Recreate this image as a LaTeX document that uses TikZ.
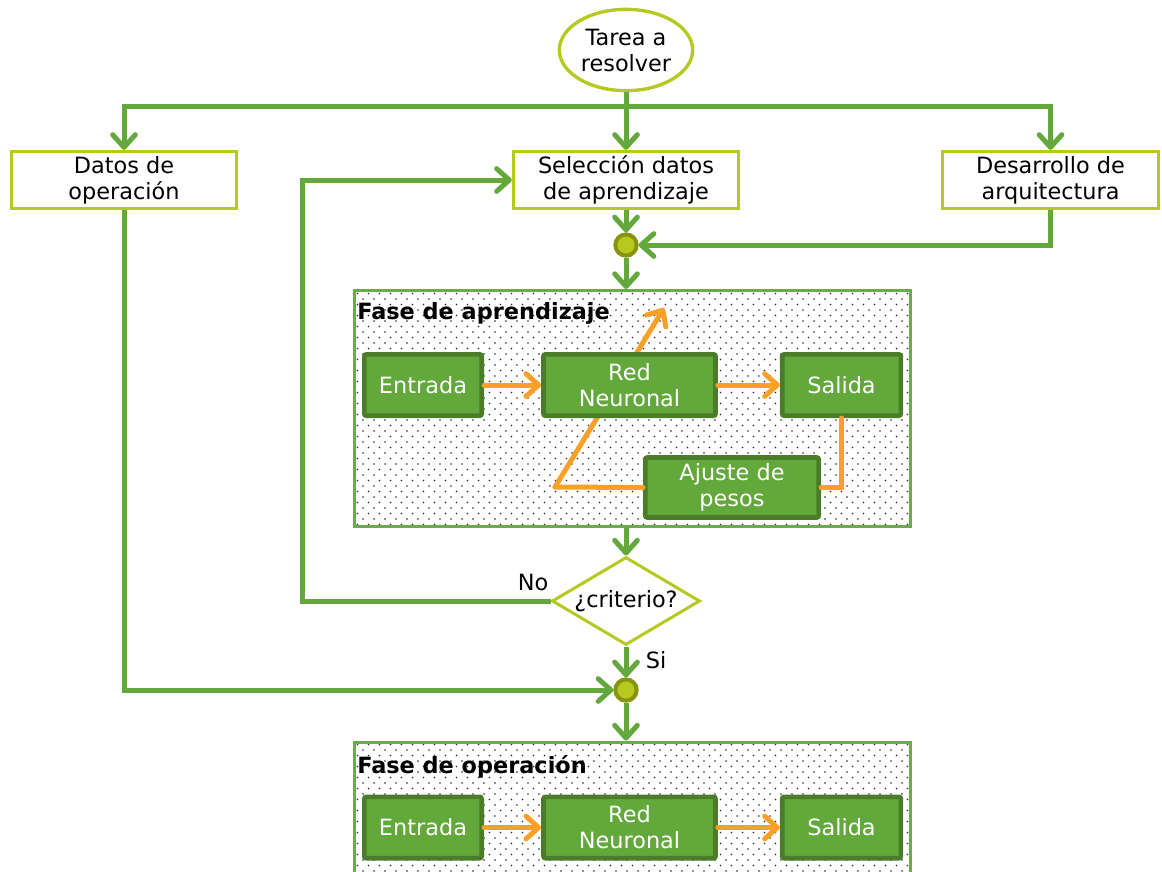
\documentclass[tikz,border=0pt]{standalone}
\usepackage{fontspec}
\setmainfont{DejaVu Sans}
\usetikzlibrary{arrows.meta,shapes.geometric,patterns.meta}

\definecolor{limeC}{RGB}{181,201,30}
\definecolor{oliveC}{RGB}{134,148,14}
\definecolor{flowG}{RGB}{98,168,58}
\definecolor{boxG}{RGB}{99,168,59}
\definecolor{boxD}{RGB}{74,124,42}
\definecolor{faseG}{RGB}{106,172,74}
\definecolor{orangeC}{RGB}{248,160,40}

\tikzdeclarepattern{
  name=fasedots,
  type=uncolored,
  bounding box={(-1pt,-1pt) and (8.25pt,8.25pt)},
  tile size={(8.25pt,8.25pt)},
  code={\fill (0,0) circle (0.6pt); \fill (4.125pt,4.125pt) circle (0.6pt);}
}

\begin{document}
\begin{tikzpicture}[x=0.75pt,y=-0.75pt,
    txt/.style={font=\fontsize{16.8}{19.5}\selectfont, align=center},
    inicio/.style={ellipse, draw=limeC, line width=2.5pt, fill=white,
      minimum width=100pt, minimum height=61pt, inner sep=0pt, txt},
    paso/.style={rectangle, draw=limeC, line width=2.25pt, fill=white,
      minimum width=169pt, minimum height=43pt, inner sep=0pt, txt},
    union/.style={circle, draw=oliveC, fill=limeC, line width=3pt,
      minimum size=16pt, inner sep=0pt},
    fase/.style={rectangle, draw=faseG, line width=2.25pt,
      pattern=fasedots, pattern color=black!85},
    titulo/.style={anchor=west, inner sep=0pt,
      font=\fontsize{16.8}{19.5}\selectfont\bfseries},
    bloque/.style={rectangle, rounded corners=1.5pt, fill=boxG, draw=boxD,
      line width=3.5pt, text=white, minimum height=46pt, inner sep=0pt, txt},
    decision/.style={diamond, aspect=1.67, draw=limeC, line width=2.25pt,
      fill=white, minimum width=111pt, minimum height=66pt, inner sep=0pt, txt},
    flow/.style={draw=flowG, line width=3.75pt,
      -{Straight Barb[length=9.5pt,width=17pt,round]}},
    feed/.style={draw=orangeC, line width=3.75pt, line cap=round,
      -{Straight Barb[length=9.5pt,width=17pt,round]}},
    lbl/.style={txt, inner sep=0pt}]
  \path[use as bounding box] (0,0) rectangle (1162,871);%
  \clip (0,0) rectangle (1162,871);%
  %
  % top row
  \node[inicio] (tarea) at (626,50) {Tarea a\\resolver};%
  \node[paso] (datos) at (124,180) {Datos de\\operación};%
  \node[paso] (seleccion) at (626,180) {Selección datos\\de aprendizaje};%
  \node[paso, minimum width=162pt] (desarrollo) at (1050.5,180) {Desarrollo de\\arquitectura};%
  \node[union] (union1) at (626,245) {};%
  \coordinate (bar) at (626,106);%
  \draw[flow] (tarea.south) -- (tarea.south |- seleccion.north);%
  \draw[flow] (bar) -| (datos.north);%
  \draw[flow] (bar) -| (desarrollo.north);%
  \draw[flow] (seleccion.south) -- (union1.north);%
  \draw[flow] (desarrollo.south) |- (union1.east);%
  %
  % learning phase
  \node[fase, minimum width=417pt, minimum height=177pt] (fase1) at (632.5,408.5) {};%
  \node[titulo] (titulo1) at (357,313) {Fase de aprendizaje};%
  \coordinate (loopc) at (555,487);%
  \coordinate (looptip) at (664,308);%
  \draw[feed] (loopc) -- (looptip);%
  \node[bloque, minimum width=88pt] (entrada1) at (423,385) {Entrada};%
  \node[bloque, minimum width=129pt] (red1) at (629.5,385) {Red\\Neuronal};%
  \node[bloque, minimum width=89pt] (salida1) at (841.5,385) {Salida};%
  \node[bloque, minimum width=130pt, minimum height=45pt] (ajuste) at (732,487.5) {Ajuste de\\pesos};%
  \draw[feed] (entrada1) -- (red1);%
  \draw[feed] (red1) -- (salida1);%
  \draw[feed, -] (salida1.south) |- (ajuste.east);%
  \draw[feed, -] (ajuste.west) -- (loopc);%
  \draw[flow] (union1.south) -- (union1.south |- fase1.north);%
  %
  % decision
  \node[decision] (criterio) at (626,601) {¿criterio?};%
  \node[union] (union2) at (626,690) {};%
  \coordinate (fb) at (302,601);%
  \draw[flow] (criterio.north |- fase1.south) -- (criterio.north);%
  \draw[flow] (criterio.west) -- (fb) |- (seleccion.west);%
  \draw[flow] (criterio.south) -- (union2.north);%
  \draw[flow] (datos.south) |- (union2.west);%
  \node[lbl] (no) at (533,582) {No};%
  \node[lbl] (si) at (656,660) {Si};%
  %
  % operation phase
  \node[fase, minimum width=417pt, minimum height=118.5pt] (fase2) at (632.5,821) {};%
  \node[titulo] (titulo2) at (357,767) {Fase de operación};%
  \node[bloque, minimum width=88pt] (entrada2) at (423,827.5) {Entrada};%
  \node[bloque, minimum width=129pt] (red2) at (629.5,827.5) {Red\\Neuronal};%
  \node[bloque, minimum width=89pt] (salida2) at (841.5,827.5) {Salida};%
  \draw[feed] (entrada2) -- (red2);%
  \draw[feed] (red2) -- (salida2);%
  \draw[flow] (union2.south) -- (union2.south |- fase2.north);%
\end{tikzpicture}
\end{document}
